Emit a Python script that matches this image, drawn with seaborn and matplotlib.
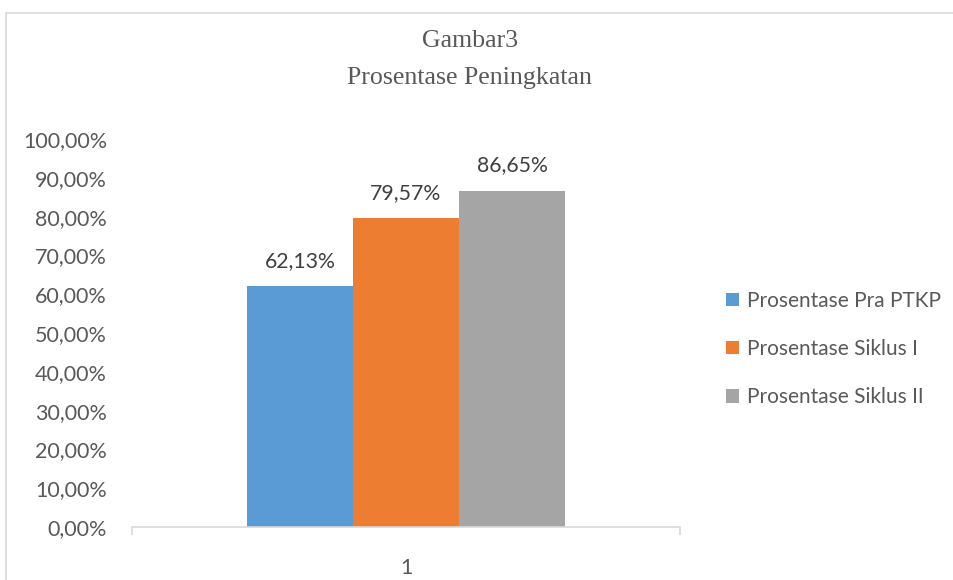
import matplotlib
matplotlib.use("Agg")
import matplotlib.pyplot as plt
import matplotlib.patches as mpatches
import seaborn as sns
import pandas as pd

categories = ["1"]
series = ["Prosentase Pra PTKP", "Prosentase Siklus I", "Prosentase Siklus II"]
values = [0.6213, 0.7957, 0.8665]
colors = ["#5B9BD5", "#ED7D31", "#A5A5A5"]
yticks = [0.0, 0.1, 0.2, 0.3, 0.4, 0.5, 0.6, 0.7, 0.8, 0.9, 1.0]

df = pd.DataFrame({"kategori": categories * len(series), "seri": series, "nilai": values})

sns.set_theme(style="white")
plt.rcParams["font.family"] = ["Lato", "DejaVu Sans"]

def pct(v):
    return f"{v*100:.2f}%".replace(".", ",")

fig = plt.figure(figsize=(9.54, 5.8), dpi=100)
W, H = 954, 580
ax = fig.add_axes([132 / W, 1 - 527 / H, (680 - 132) / W, (527 - 139) / H])

sns.barplot(data=df, x="kategori", y="nilai", hue="seri", palette=colors,
            width=0.58, gap=0, saturation=1, ax=ax, legend=False, linewidth=0)

for c, v in zip(ax.containers, values):
    ax.bar_label(c, labels=[pct(v)], padding=11, fontsize=15.3, color="#404040")

ax.set_ylim(0, 1.0)
ax.set_xlim(-0.5, 0.5)
ax.set_yticks(yticks)
ax.set_yticklabels([pct(t) for t in yticks], fontsize=15.5, color="#595959")
ax.set_xticks([0])
ax.set_xticklabels(categories, fontsize=15.5, color="#595959")
ax.set_xticks([-0.5, 0.5], minor=True)
ax.tick_params(axis="x", which="major", length=0, pad=22)
ax.tick_params(axis="x", which="minor", length=6, width=1.2, color="#D9D9D9", direction="out", bottom=True)
ax.tick_params(axis="y", length=0, pad=18)
ax.set_xlabel("")
ax.set_ylabel("")
for s in ["top", "right", "left"]:
    ax.spines[s].set_visible(False)
ax.spines["bottom"].set_color("#D9D9D9")
ax.spines["bottom"].set_linewidth(1.2)

# Chart border
fig.patches.append(mpatches.Rectangle((6 / W, -0.05), 1.1, 1 - 13 / H + 0.05,
                                      transform=fig.transFigure, fill=False,
                                      edgecolor="#D9D9D9", linewidth=1.2))

fig.text(470 / W, 1 - 41 / H, "Gambar3", ha="center", va="center",
         fontsize=18.6, color="#595959", family=["Liberation Serif", "DejaVu Serif"])
fig.text(470 / W, 1 - 78 / H, "Prosentase Peningkatan", ha="center", va="center",
         fontsize=18.6, color="#595959", family=["Liberation Serif", "DejaVu Serif"])

handles = [mpatches.Patch(facecolor=c, edgecolor="none", label=s) for c, s in zip(colors, series)]
fig.legend(handles=handles, loc="center left", bbox_to_anchor=(718 / W, 1 - 349 / H),
           frameon=False, fontsize=15, labelcolor="#595959", handlelength=0.62,
           handleheight=0.62, handletextpad=0.35, labelspacing=1.35, borderaxespad=0)

fig.savefig("out.png", dpi=100)
